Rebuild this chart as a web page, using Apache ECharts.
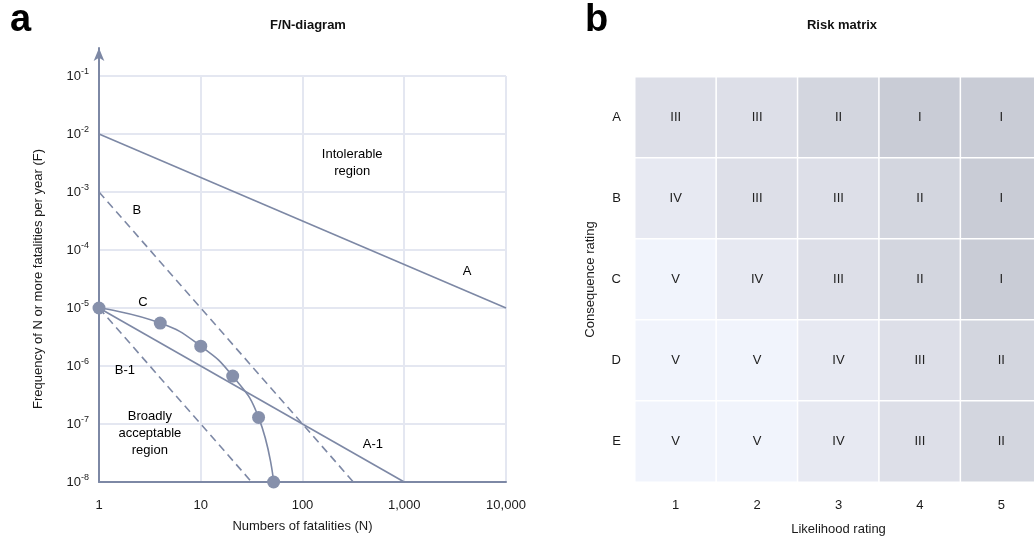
<!DOCTYPE html>
<html>
<head>
<meta charset="utf-8">
<script src="https://cdn.jsdelivr.net/npm/echarts@6/dist/echarts.min.js"></script>
<style>
html,body{margin:0;padding:0;background:#fff;}
#c{width:1034px;height:542px;}
</style>
</head>
<body>
<div id="c"></div>
<script>
// ---- F/N diagram data ----
const lineA  = [[1, 1e-2], [10000, 1e-5]];
const lineB  = [[1, 1e-3], [316.2, 1e-8]];
const lineA1 = [[1, 1e-5], [1000, 1e-8]];
const lineB1 = [[1, 1e-5], [31.62, 1e-8]];
const curveC = [[1, 1e-5], [4, 5.5e-6], [10, 2.2e-6], [20.6, 6.7e-7], [37, 1.3e-7], [52, 1e-8]];
const fnLabels = [
  {name: 'Intolerable\nregion', value: [308, 3.2e-3]},
  {name: 'A', value: [4150, 4.2e-5]},
  {name: 'B', value: [2.36, 4.9e-4]},
  {name: 'C', value: [2.7, 1.26e-5]},
  {name: 'B-1', value: [1.8, 8.5e-7]},
  {name: 'Broadly\nacceptable\nregion', value: [3.16, 7e-8]},
  {name: 'A-1', value: [492, 4.4e-8]}
];
// ---- Risk matrix data ----
const likelihood = ['1', '2', '3', '4', '5'];
const consequence = ['A', 'B', 'C', 'D', 'E'];
const romans = ['I', 'II', 'III', 'IV', 'V'];
const riskLevels = [
  [3, 3, 2, 1, 1],
  [4, 3, 3, 2, 1],
  [5, 4, 3, 2, 1],
  [5, 5, 4, 3, 2],
  [5, 5, 4, 3, 2]
];
const levelColors = ['#c9ccd6', '#d3d6df', '#dddfe8', '#e7e9f2', '#f1f4fc'];

const FONT = '"Liberation Sans", Arial, sans-serif';
const LINE = '#7d88a5';
const GRIDC = '#e4e7f1';
const TXT = '#1a1a1a';

const heatData = [];
riskLevels.forEach((row, r) => row.forEach((v, c) => heatData.push([c, r, v])));

function fmtThousands(v) {
  return Math.round(v).toString().replace(/\B(?=(\d{3})+(?!\d))/g, ',');
}

const chart = echarts.init(document.getElementById('c'));
chart.setOption({
  animation: false,
  textStyle: {fontFamily: FONT},
  title: [
    {text: 'a', left: 5, top: -3, textStyle: {fontSize: 38, fontWeight: 'bold', color: '#000', fontFamily: FONT}},
    {text: 'b', left: 580, top: -3, textStyle: {fontSize: 38, fontWeight: 'bold', color: '#000', fontFamily: FONT}},
    {text: 'F/N-diagram', left: 303, top: 14, textAlign: 'center', textStyle: {fontSize: 13, fontWeight: 'bold', color: '#111', fontFamily: FONT}},
    {text: 'Risk matrix', left: 837, top: 14, textAlign: 'center', textStyle: {fontSize: 13, fontWeight: 'bold', color: '#111', fontFamily: FONT}}
  ],
  grid: [
    {left: 99, top: 76, width: 407, height: 406, outerBoundsMode: 'none'},
    {left: 99, top: 48, width: 407, height: 434, outerBoundsMode: 'none'},
    {left: 635, top: 77, width: 407, height: 405, outerBoundsMode: 'none'}
  ],
  xAxis: [
    {
      gridIndex: 0, type: 'log', logBase: 10, min: 1, max: 10000,
      name: 'Numbers of fatalities (N)', nameLocation: 'middle', nameGap: 38,
      nameTextStyle: {fontSize: 13, color: TXT, fontFamily: FONT},
      axisLine: {show: true, lineStyle: {color: LINE, width: 2}},
      axisTick: {show: false},
      axisLabel: {fontSize: 13, color: TXT, margin: 17, formatter: fmtThousands, fontFamily: FONT},
      splitLine: {show: true, lineStyle: {color: GRIDC, width: 2}},
      minorTick: {show: false}
    },
    {gridIndex: 1, type: 'value', show: false, min: 0, max: 1},
    {
      gridIndex: 2, type: 'category', data: likelihood,
      name: 'Likelihood rating', nameLocation: 'middle', nameGap: 41,
      nameTextStyle: {fontSize: 13, color: TXT, fontFamily: FONT},
      axisLine: {show: false}, axisTick: {show: false},
      axisLabel: {fontSize: 13, color: TXT, margin: 17, fontFamily: FONT},
      splitLine: {show: false}
    }
  ],
  yAxis: [
    {
      gridIndex: 0, type: 'log', logBase: 10, min: 1e-8, max: 1e-1,
      name: 'Frequency of N or more fatalities per year (F)', nameLocation: 'middle', nameGap: 54,
      nameTextStyle: {fontSize: 13, color: TXT, fontFamily: FONT},
      axisLine: {show: false},
      axisTick: {show: false},
      axisLabel: {
        margin: 10, color: TXT,
        formatter: function (v) {
          const e = Math.round(Math.log10(v));
          return '{b|10}{s|' + e + '}';
        },
        rich: {
          b: {fontSize: 13, color: TXT, fontFamily: FONT},
          s: {fontSize: 9, color: TXT, fontFamily: FONT, verticalAlign: 'top', padding: [0, 0, 8, 0]}
        }
      },
      splitLine: {show: true, lineStyle: {color: GRIDC, width: 2}}
    },
    {
      gridIndex: 1, type: 'value', min: 0, max: 1,
      axisLine: {show: true, symbol: ['none', 'arrow'], symbolSize: [8, 13], lineStyle: {color: LINE, width: 2}},
      axisTick: {show: false}, axisLabel: {show: false}, splitLine: {show: false}
    },
    {
      gridIndex: 2, type: 'category', data: consequence, inverse: true,
      name: 'Consequence rating', nameLocation: 'middle', nameGap: 38,
      nameTextStyle: {fontSize: 13, color: TXT, fontFamily: FONT},
      axisLine: {show: false}, axisTick: {show: false},
      axisLabel: {fontSize: 13, color: TXT, margin: 14, fontFamily: FONT},
      splitLine: {show: false}
    }
  ],
  visualMap: {
    type: 'piecewise', show: false, seriesIndex: 6, dimension: 2,
    pieces: levelColors.map((c, i) => ({value: i + 1, color: c}))
  },
  series: [
    {type: 'line', xAxisIndex: 0, yAxisIndex: 0, data: lineA, symbol: 'none', lineStyle: {color: LINE, width: 1.6}},
    {type: 'line', xAxisIndex: 0, yAxisIndex: 0, data: lineB, symbol: 'none', lineStyle: {color: LINE, width: 1.6, type: [8, 5]}},
    {type: 'line', xAxisIndex: 0, yAxisIndex: 0, data: lineA1, symbol: 'none', lineStyle: {color: LINE, width: 1.6}},
    {type: 'line', xAxisIndex: 0, yAxisIndex: 0, data: lineB1, symbol: 'none', lineStyle: {color: LINE, width: 1.6, type: [8, 5]}},
    {type: 'line', xAxisIndex: 0, yAxisIndex: 0, data: curveC, smooth: 0.5, clip: false,
      symbol: 'circle', symbolSize: 13, showAllSymbol: true,
      itemStyle: {color: '#8690ab'}, lineStyle: {color: LINE, width: 1.6}, z: 5},
    {type: 'scatter', xAxisIndex: 0, yAxisIndex: 0, data: fnLabels, symbolSize: 0, silent: true,
      label: {show: true, position: 'inside', formatter: '{b}', fontSize: 13, color: '#000', opacity: 1, lineHeight: 17, align: 'center', fontFamily: FONT}},
    {type: 'heatmap', xAxisIndex: 2, yAxisIndex: 2, data: heatData,
      itemStyle: {borderColor: '#fff', borderWidth: 1.5},
      label: {show: true, fontSize: 13, color: '#222', fontFamily: FONT, formatter: p => romans[p.value[2] - 1]}}
  ]
});
</script>
</body>
</html>
